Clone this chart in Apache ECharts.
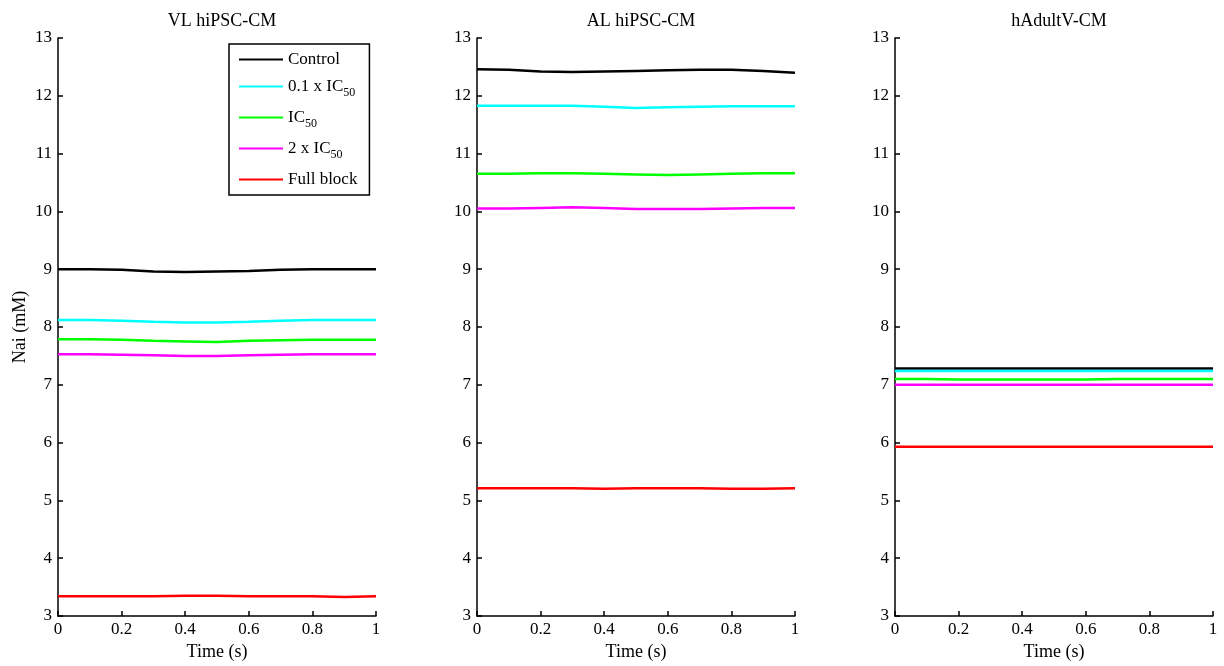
<!DOCTYPE html>
<html>
<head>
<meta charset="utf-8">
<script src="https://cdn.jsdelivr.net/npm/echarts@6/dist/echarts.min.js"></script>
<style>
  html, body { margin: 0; padding: 0; background: #fff; }
  #charts { width: 1224px; height: 666px; }
</style>
</head>
<body>
<div id="charts"></div>
<script>
// time points (s)
const time = [0, 0.1, 0.2, 0.3, 0.4, 0.5, 0.6, 0.7, 0.8, 0.9, 1];

const panelTitles = ["VL hiPSC-CM", "AL hiPSC-CM", "hAdultV-CM"];
const seriesNames = ["Control", "0.1 x IC50", "IC50", "2 x IC50", "Full block"];
const seriesColors = ["#000000", "#00ffff", "#00ff00", "#ff00ff", "#ff0000"];

// Nai (mM) per panel
const vlControl = [9.00, 9.00, 8.99, 8.96, 8.95, 8.96, 8.97, 8.99, 9.00, 9.00, 9.00];
const vlTenth = [8.12, 8.12, 8.11, 8.09, 8.08, 8.08, 8.09, 8.11, 8.12, 8.12, 8.12];
const vlIC50 = [7.79, 7.79, 7.78, 7.76, 7.75, 7.74, 7.76, 7.77, 7.78, 7.78, 7.78];
const vlDouble = [7.53, 7.53, 7.52, 7.51, 7.50, 7.50, 7.51, 7.52, 7.53, 7.53, 7.53];
const vlFull = [3.34, 3.34, 3.34, 3.34, 3.35, 3.35, 3.34, 3.34, 3.34, 3.33, 3.34];

const alControl = [12.46, 12.45, 12.42, 12.41, 12.42, 12.43, 12.44, 12.45, 12.45, 12.43, 12.40];
const alTenth = [11.83, 11.83, 11.83, 11.83, 11.81, 11.79, 11.80, 11.81, 11.82, 11.82, 11.82];
const alIC50 = [10.65, 10.65, 10.66, 10.66, 10.65, 10.64, 10.63, 10.64, 10.65, 10.66, 10.66];
const alDouble = [10.05, 10.05, 10.06, 10.07, 10.06, 10.04, 10.04, 10.04, 10.05, 10.06, 10.06];
const alFull = [5.21, 5.21, 5.21, 5.21, 5.20, 5.21, 5.21, 5.21, 5.20, 5.20, 5.21];

const adControl = [7.28, 7.28, 7.28, 7.28, 7.28, 7.28, 7.28, 7.28, 7.28, 7.28, 7.28];
const adTenth = [7.24, 7.24, 7.24, 7.24, 7.24, 7.24, 7.24, 7.24, 7.24, 7.24, 7.24];
const adIC50 = [7.10, 7.10, 7.09, 7.09, 7.09, 7.09, 7.09, 7.10, 7.10, 7.10, 7.10];
const adDouble = [7.00, 7.00, 7.00, 7.00, 7.00, 7.00, 7.00, 7.00, 7.00, 7.00, 7.00];
const adFull = [5.93, 5.93, 5.93, 5.93, 5.93, 5.93, 5.93, 5.93, 5.93, 5.93, 5.93];

const panels = [
  [vlControl, vlTenth, vlIC50, vlDouble, vlFull],
  [alControl, alTenth, alIC50, alDouble, alFull],
  [adControl, adTenth, adIC50, adDouble, adFull]
];

const font = "'Liberation Serif', 'DejaVu Serif', serif";
const gridLefts = [58, 477, 895];
const gridWidth = 318;

const chart = echarts.init(document.getElementById("charts"));

function pairs(ys) {
  return time.map((t, i) => [t, ys[i]]);
}

const grids = gridLefts.map((l) => ({ left: l, top: 38, width: gridWidth, height: 578 }));

const titles = panelTitles.map((t, i) => ({
  text: t,
  left: gridLefts[i] + gridWidth / 2,
  textAlign: "center",
  top: 7,
  textStyle: { fontFamily: font, fontSize: 18, fontWeight: "normal", color: "#000" }
}));

const xAxes = gridLefts.map((l, i) => ({
  type: "value",
  gridIndex: i,
  min: 0,
  max: 1,
  interval: 0.2,
  name: "Time (s)",
  nameLocation: "middle",
  nameGap: 27,
  nameTextStyle: { fontFamily: font, fontSize: 18, color: "#000" },
  axisLine: { lineStyle: { color: "#000", width: 1.5 } },
  axisTick: { inside: true, length: 5, lineStyle: { color: "#000", width: 1.5 } },
  axisLabel: { fontFamily: font, fontSize: 17, color: "#000", margin: 5,
    formatter: (v) => String(v) },
  splitLine: { show: false }
}));

const yAxes = gridLefts.map((l, i) => ({
  type: "value",
  gridIndex: i,
  min: 3,
  max: 13,
  interval: 1,
  name: i === 0 ? "Nai (mM)" : "",
  nameLocation: "middle",
  nameGap: 29,
  nameTextStyle: { fontFamily: font, fontSize: 18, color: "#000" },
  axisLine: { show: true, lineStyle: { color: "#000", width: 1.5 } },
  axisTick: { show: true, inside: true, length: 5, lineStyle: { color: "#000", width: 1.5 } },
  axisLabel: { fontFamily: font, fontSize: 17, color: "#000", margin: 6 },
  splitLine: { show: false }
}));

const series = [];
panels.forEach((set, p) => {
  set.forEach((ys, k) => {
    series.push({
      name: seriesNames[k],
      type: "line",
      xAxisIndex: p,
      yAxisIndex: p,
      data: pairs(ys),
      showSymbol: false,
      smooth: false,
      lineStyle: { color: seriesColors[k], width: 2.5 },
      itemStyle: { color: seriesColors[k] },
      emphasis: { disabled: true },
      animation: false
    });
  });
});

function legendLabel(name) {
  if (name.endsWith("IC50")) {
    return "{t|" + name.slice(0, -2) + "}{sub|50}";
  }
  return "{t|" + name + "}";
}

const option = {
  backgroundColor: "#fff",
  animation: false,
  title: titles,
  grid: grids,
  xAxis: xAxes,
  yAxis: yAxes,
  legend: {
    data: seriesNames,
    orient: "vertical",
    left: 229,
    top: 44,
    padding: [7, 12, 7, 10],
    itemGap: 10,
    itemWidth: 44,
    itemHeight: 2,
    icon: "rect",
    borderColor: "#000",
    borderWidth: 1.5,
    backgroundColor: "#fff",
    selectedMode: false,
    formatter: legendLabel,
    textStyle: {
      fontFamily: font,
      color: "#000",
      padding: [0, 0, 0, 0],
      rich: {
        t: { fontFamily: font, fontSize: 17, color: "#000", height: 21, verticalAlign: "middle" },
        sub: { fontFamily: font, fontSize: 12, color: "#000", padding: [13, 0, 0, 0], height: 21 }
      }
    }
  },
  series: series
};

chart.setOption(option);
</script>
</body>
</html>
